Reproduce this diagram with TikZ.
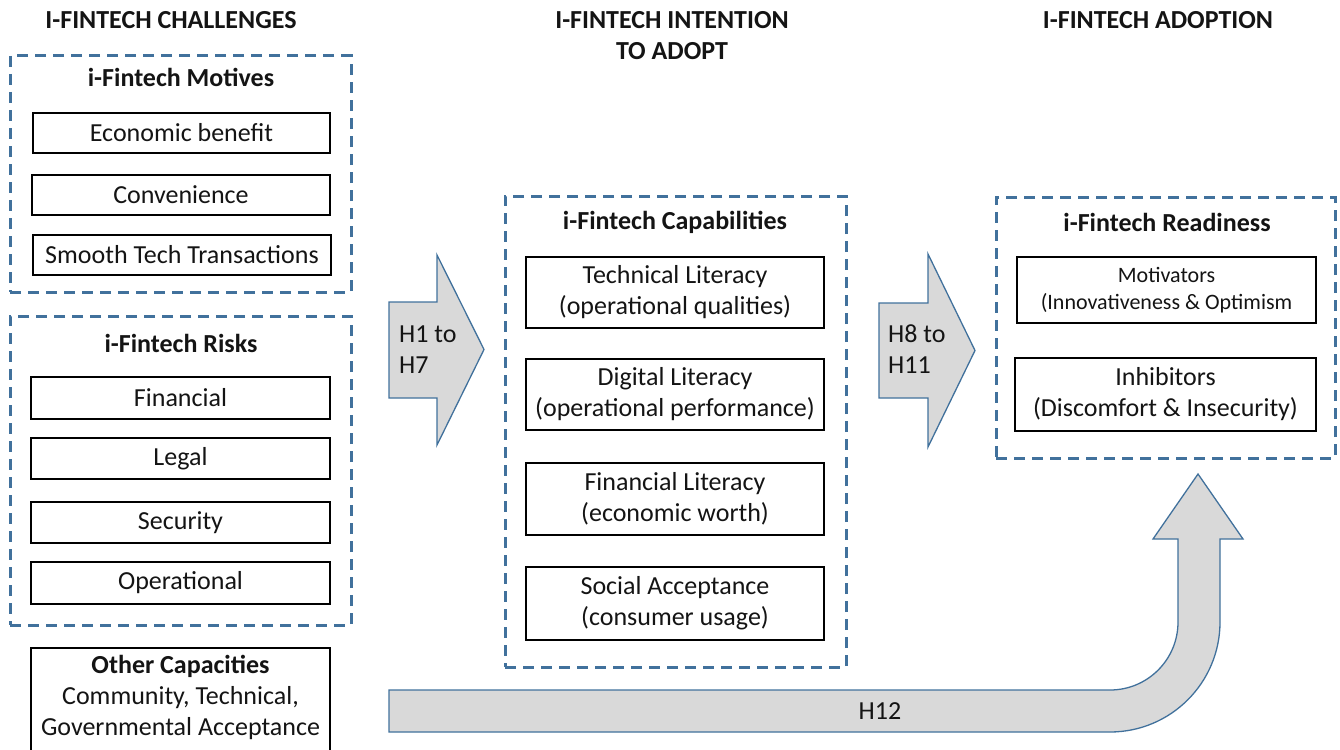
\documentclass[tikz,border=0pt]{standalone}
\usepackage{fontspec}
\setmainfont{Carlito}
\definecolor{txt}{RGB}{20,20,20}
\definecolor{dashblue}{RGB}{65,113,156}
\definecolor{arrowfill}{RGB}{217,217,217}
\begin{document}
\begin{tikzpicture}[x=1pt,y=-1pt,
  lbl/.style={font=\fontsize{26}{31}\selectfont, text=txt, inner sep=0pt, align=center},
  ttl/.style={lbl, font=\fontsize{26}{31}\selectfont\bfseries},
  grp/.style={draw=dashblue, line width=3pt, dash pattern=on 11pt off 7pt, inner sep=0pt},
  itembox/.style={lbl, draw=black, line width=1.4pt, fill=white},
  bigarrow/.style={fill=arrowfill, draw=dashblue, line width=1.3pt, line join=miter}]
\useasboundingbox (0,0) rectangle (1340,749);

% column titles
\node[ttl] (t1) at (171,20) {I-FINTECH CHALLENGES};
\node[ttl] (t2) at (672,36) {I-FINTECH INTENTION\\TO ADOPT};
\node[ttl] (t3) at (1158,20) {I-FINTECH ADOPTION};

% Motives group
\node[grp, minimum width=341pt, minimum height=236pt] (motives) at (180.5,174) {};
\node[ttl] (motivesT) at (181,77) {i-Fintech Motives};
\node[itembox, minimum width=297pt, minimum height=40pt] (econ) at (181.5,133) {Economic benefit};
\node[itembox, minimum width=298pt, minimum height=40pt] (conv) at (181,195) {Convenience};
\node[itembox, minimum width=298pt, minimum height=40pt] (smooth) at (182,255) {Smooth Tech Transactions};

% Risks group
\node[grp, minimum width=341pt, minimum height=309pt] (risks) at (180.5,470.5) {};
\node[ttl] (risksT) at (181,343) {i-Fintech Risks};
\node[itembox, minimum width=299pt, minimum height=42pt] (fin) at (180.5,398) {Financial};
\node[itembox, minimum width=299pt, minimum height=41pt] (legal) at (180.5,458.5) {Legal};
\node[itembox, minimum width=299pt, minimum height=41pt] (sec) at (180.5,522.5) {Security};
\node[itembox, minimum width=299pt, minimum height=42pt] (oper) at (180.5,583) {Operational};

% Other capacities
\node[itembox, minimum width=299pt, minimum height=112pt] (other) at (180.5,704) {};
\node[lbl] (otherT) at (180.5,697.5) {\textbf{Other Capacities}\\Community, Technical,\\Governmental Acceptance};

% Arrow H1 to H7
\path[bigarrow] (389,302) -- (437,302) -- (437,255) -- (484,349.5) -- (437,445) -- (437,398) -- (389,398) -- cycle;
\node[lbl, align=left, anchor=west] (h1) at (399,349.5) {H1 to\\H7};

% Capabilities group
\node[grp, minimum width=341pt, minimum height=471pt] (capab) at (675.5,431.5) {};
\node[ttl] (capabT) at (675,222) {i-Fintech Capabilities};
\node[itembox, minimum width=298pt, minimum height=71pt] (tech) at (675,292.5) {Technical Literacy\\(operational qualities)};
\node[itembox, minimum width=298pt, minimum height=71pt] (digi) at (675,394.5) {Digital Literacy\\(operational performance)};
\node[itembox, minimum width=298pt, minimum height=72pt] (finl) at (675,499) {Financial Literacy\\(economic worth)};
\node[itembox, minimum width=298pt, minimum height=73pt] (soc) at (675,603.5) {Social Acceptance\\(consumer usage)};

% Arrow H8 to H11
\path[bigarrow] (879,303) -- (928,303) -- (928,254) -- (975,350.5) -- (928,447) -- (928,398) -- (879,398) -- cycle;
\node[lbl, align=left, anchor=west] (h8) at (888,349.5) {H8 to\\H11};

% Readiness group
\node[grp, minimum width=339pt, minimum height=261pt] (ready) at (1165.5,327.5) {};
\node[ttl] (readyT) at (1167,222) {i-Fintech Readiness};
\node[itembox, minimum width=299pt, minimum height=66pt, font=\fontsize{22}{27}\selectfont] (motiv) at (1166.5,290) {Motivators\\(Innovativeness \& Optimism};
\node[itembox, minimum width=301pt, minimum height=73pt] (inhib) at (1165.5,394.5) {Inhibitors\\(Discomfort \& Insecurity)};

% Arrow H12
\path[bigarrow] (389,690) -- (1110,690)
  .. controls (1147.6,690) and (1178,659.6) .. (1178,622)
  -- (1178,539) -- (1153,539) -- (1198,474) -- (1243,539) -- (1220,539) -- (1220,622)
  .. controls (1220,682.75) and (1170.75,732) .. (1110,732)
  -- (389,732) -- cycle;
\node[lbl] (h12) at (880,711) {H12};

\end{tikzpicture}
\end{document}
